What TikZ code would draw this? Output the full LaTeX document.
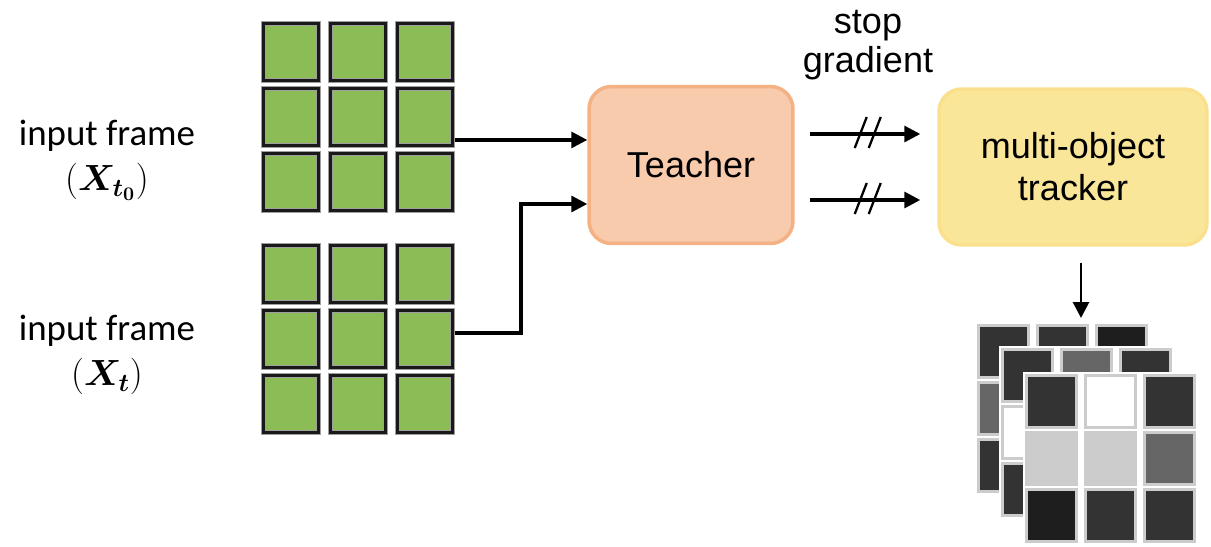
\documentclass[tikz,border=0pt]{standalone}
\usepackage{amsmath}
\usepackage{fontspec}
\setmainfont{Liberation Sans}
\newfontfamily\calibri{Carlito}
\usepackage{tikz}
\usetikzlibrary{arrows.meta,calc}

\definecolor{framegreen}{RGB}{139,188,86}
\definecolor{teacherfill}{RGB}{248,203,173}
\definecolor{teacherline}{RGB}{244,177,131}
\definecolor{trackfill}{RGB}{250,230,153}
\definecolor{trackline}{RGB}{250,224,140}
\definecolor{dk}{RGB}{51,51,51}
\definecolor{vdk}{RGB}{30,30,30}
\definecolor{md}{RGB}{102,102,102}
\definecolor{lt}{RGB}{204,204,204}

\tikzset{
  pixel/.style={rectangle, fill=framegreen, draw=gray!75, line width=2.8pt,
                minimum width=1.10cm, minimum height=1.14cm, inner sep=0pt,
                postaction={draw=black!90, line width=1.2pt}},
  maskpx/.style={rectangle, draw=lt, line width=1.4pt,
                 minimum width=1.0cm, minimum height=1.04cm, inner sep=0pt},
  model/.style={rectangle, rounded corners=0.45cm, line width=2pt,
                align=center, font=\fontsize{20.5}{24}\selectfont},
  inputtxt/.style={align=center, font=\calibri\fontsize{21}{26}\selectfont},
  arrowline/.style={-{Triangle[length=3.2mm, width=3.2mm]}, line width=1.8pt},
  gradcut/.style={line width=1.3pt}
}

\begin{document}
\begin{tikzpicture}[x=0.02cm, y=-0.02cm]
  \useasboundingbox (0,0) rectangle (1211,547);

  % input frames
  \foreach \r in {1,2,3}
    \foreach \c in {1,2,3} {
      \node[pixel] (a-\r-\c) at ({291+67*(\c-1)},{52+65*(\r-1)}) {};
      \node[pixel] (b-\r-\c) at ({291+67*(\c-1)},{274+65*(\r-1)}) {};
    }
  \node[inputtxt] (in0) at (107,160) {input frame\\$(\boldsymbol{X_{t_0}})$};
  \node[inputtxt] (in1) at (107,355) {input frame\\$(\boldsymbol{X_{t}})$};

  % teacher and tracker
  \node[model, fill=teacherfill, draw=teacherline,
        minimum width=4.08cm, minimum height=3.14cm] (teacher) at (691,165) {Teacher};
  \node[model, fill=trackfill, draw=trackline,
        minimum width=5.36cm, minimum height=3.12cm] (tracker) at (1073,167) {multi-object\\tracker};
  \node[align=center, font=\fontsize{20.5}{22}\selectfont] (sg) at (868,45) {stop\\gradient};

  \coordinate (o1) at ($(a-2-3.south east)+(0,-8)$);
  \coordinate (o2) at ($(b-2-3.east)+(0,-6)$);
  \coordinate (k) at (521,204);
  \draw[arrowline] (o1) -- (o1 -| teacher.west);
  \draw[arrowline] (o2) -| (k) -- (k -| teacher.west);

  \coordinate (s1) at ($(teacher.east)+(15,-31)$);
  \coordinate (s2) at ($(teacher.east)+(15,35)$);
  \foreach \p in {s1,s2} {
    \draw[arrowline, shorten >=0.34cm] (\p) -- (\p -| tracker.west);
    \draw[gradcut] ($(\p)+(45,14)$) -- ++(12,-31);
    \draw[gradcut] ($(\p)+(59,14)$) -- ++(12,-31);
  }

  \coordinate (mtop) at (1081,318);
  \draw[arrowline, line width=1.6pt] ($(mtop |- tracker.south)+(0,16)$) -- (mtop);

  % output masks, back to front
  \foreach \r/\c/\tono in {1/1/dk,1/2/dk,1/3/vdk,2/1/md,2/2/dk,2/3/dk,3/1/dk,3/2/md,3/3/dk}
    \node[maskpx, fill=\tono] (m1-\r-\c) at ({1003.5+59*(\c-1)},{351.5+57*(\r-1)}) {};
  \fill[white] (999,346) rectangle (1174,520);
  \foreach \r/\c/\tono in {1/1/dk,1/2/md,1/3/dk,2/1/white,2/2/dk,2/3/lt,3/1/dk,3/2/dk,3/3/vdk}
    \node[maskpx, fill=\tono] (m2-\r-\c) at ({1027.5+59*(\c-1)},{375.5+57*(\r-1)}) {};
  \fill[white] (1023,372) rectangle (1199,546);
  \foreach \r/\c/\tono in {1/1/dk,1/2/white,1/3/dk,2/1/lt,2/2/lt,2/3/md,3/1/vdk,3/2/dk,3/3/dk}
    \node[maskpx, fill=\tono] (m3-\r-\c) at ({1051.5+59*(\c-1)},{401.5+57*(\r-1)}) {};
\end{tikzpicture}
\end{document}
